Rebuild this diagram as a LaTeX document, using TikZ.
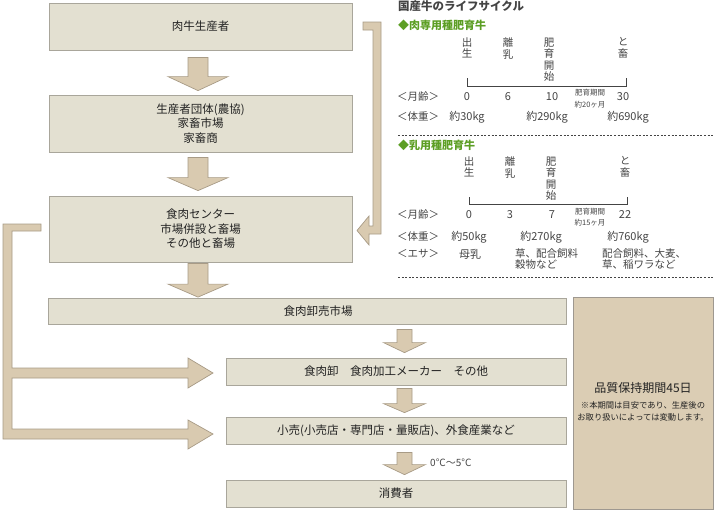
\documentclass[tikz,border=0pt]{standalone}
\usepackage{fontspec}
\setmainfont{Noto Sans CJK JP}
\usetikzlibrary{calc}
\definecolor{boxfill}{HTML}{E3E0D1}
\definecolor{boxline}{HTML}{A9A69B}
\definecolor{arrfill}{HTML}{D9CAB0}
\definecolor{arrline}{HTML}{A89B86}
\definecolor{panfill}{HTML}{DBCDB4}
\definecolor{panline}{HTML}{9E9890}
\definecolor{txt}{HTML}{222222}
\definecolor{gtxt}{HTML}{444444}
\definecolor{grn}{HTML}{5C9E24}
\newcommand\dnarr[8]{%
 \filldraw[blk] let \p1=(#1.south), \p2=(#2.north) in
 (#3pt-#6pt, \y1-#4pt) -- (#3pt+#6pt, \y1-#4pt) -- (#3pt+#6pt, \y2+#5pt+#8pt) --
 (#3pt+#7pt, \y2+#5pt+#8pt) -- (#3pt, \y2+#5pt) -- (#3pt-#7pt, \y2+#5pt+#8pt) --
 (#3pt-#6pt, \y2+#5pt+#8pt) -- cycle;}
\begin{document}
\begin{tikzpicture}[x=1pt,y=-1pt,
 box/.style={draw=boxline, fill=boxfill, line width=0.8pt, inner sep=0pt, align=center,
   font=\fontsize{11.5}{14.5}\selectfont, text=txt},
 blk/.style={fill=arrfill, draw=arrline, line width=0.7pt, line join=miter},
 lab/.style={inner sep=0pt, font=\fontsize{10.5}{12}\selectfont, text=gtxt},
 num/.style={inner sep=0pt, font=\fontsize{11}{12}\selectfont, text=gtxt},
 sml/.style={inner sep=0pt, font=\fontsize{7.5}{9}\selectfont, text=gtxt},
 vt/.style={inner sep=0pt, anchor=north, align=center, font=\fontsize{10.5}{11.5}\selectfont, text=gtxt},
 brk/.style={draw=gtxt, line width=0.8pt},
 dsh/.style={draw=gtxt, line width=0.7pt, dash pattern=on 2pt off 1.6pt},
 feed/.style={inner sep=0pt, anchor=west, align=left, font=\fontsize{10.5}{11.5}\selectfont, text=gtxt}
]
\useasboundingbox (0,0) rectangle (715,509);

% main flow boxes
\node[box, minimum width=303pt, minimum height=47pt] (b1) at (200.5,26.5) {肉牛生産者};
\node[box, minimum width=303pt, minimum height=57pt] (b2) at (200.5,123.5) {生産者団体(農協)\\家畜市場\\家畜商};
\node[box, minimum width=303pt, minimum height=66pt] (b3) at (200.5,229) {食肉センター\\市場併設と畜場\\その他と畜場};
\node[box, minimum width=518pt, minimum height=26pt] (b4) at (307,311) {};
\node[inner sep=0pt, font=\fontsize{11.5}{14}\selectfont, text=txt] (b4t) at (318,311) {食肉卸売市場};
\node[box, minimum width=340pt, minimum height=27pt] (b5) at (396,371.5) {食肉卸\quad 食肉加工メーカー\quad その他};
\node[box, minimum width=340pt, minimum height=27pt] (b6) at (396,430.5) {小売(小売店・専門店・量販店)、外食産業など};
\node[box, minimum width=340pt, minimum height=27pt] (b7) at (396,493.5) {消費者};

% quality panel
\node[draw=panline, fill=panfill, line width=0.8pt, minimum width=140pt, minimum height=212pt, inner sep=0pt] (pan) at (643,403) {};
\node[inner sep=0pt, font=\fontsize{12}{14}\selectfont, text=txt] (q1) at (643,388) {品質保持期間45日};
\node[inner sep=0pt, align=center, font=\fontsize{8.3}{12}\selectfont, text=txt] (q2) at (643,411) {※本期間は目安であり、生産後の\\お取り扱いによっては変動します。};

% block arrows
\dnarr{b1}{b2}{198}{7}{4}{10}{30}{14}
\dnarr{b2}{b3}{198}{5}{5}{10}{30}{13}
\dnarr{b3}{b4}{198}{1}{0.5}{10}{30}{13}
\dnarr{b4}{b5}{404.5}{5}{5}{7.5}{21}{10}
\dnarr{b5}{b6}{404.5}{3}{4}{7.5}{21}{9}
\dnarr{b6}{b7}{404.5}{8}{5}{7.5}{21}{10}
\node[inner sep=0pt, anchor=west, font=\fontsize{10}{12}\selectfont, text=gtxt] (temp) at (430,463) {0°C〜5°C};

% right bracket arrow (b1 -> b3)
\filldraw[blk] (363,22) -- (381,22) -- (381,234) -- (369,234) -- (369,245) -- (357,230.5)
  -- (369,216) -- (369,226) -- (373,226) -- (373,30) -- (363,30) -- cycle;
% left bracket arrows (b3 -> b5, b6)
\filldraw[blk] (41,224) -- (3,224) -- (3,439) -- (188,439) -- (188,449) -- (213,434)
  -- (188,420) -- (188,429) -- (12,429) -- (12,378) -- (188,378) -- (188,388) -- (213,373)
  -- (188,358) -- (188,368) -- (12,368) -- (12,231) -- (41,231) -- cycle;

% life cycle panel
\node[inner sep=0pt, anchor=west, font=\fontsize{11.5}{13}\selectfont\bfseries, text=gtxt] (t0) at (398,6) {国産牛のライフサイクル};
\node[inner sep=0pt, anchor=west, font=\fontsize{11}{13}\selectfont\bfseries, text=grn] (g1) at (398,25) {◆肉専用種肥育牛};
\node[vt] (v11) at (467,37.5) {出\\生};
\node[vt] (v12) at (508,37.5) {離\\乳};
\node[vt] (v13) at (549,37.5) {肥\\育\\開\\始};
\node[vt] (v14) at (623,37.5) {と\\畜};
\draw[brk] (467,78) -- (467,86) -- (626,86) -- (626,78);
\node[lab, anchor=west] (m1) at (397,97) {＜月齢＞};
\node[num] (n10) at (467,97) {0};
\node[num] (n11) at (508,97) {6};
\node[num] (n12) at (552,97) {10};
\node[num] (n13) at (623,97) {30};
\node[sml] (p1a) at (590,93) {肥育期間};
\node[sml] (p1b) at (590,105) {約20ヶ月};
\node[lab, anchor=west] (w1) at (397,117) {＜体重＞};
\node[num] (w11) at (467,117) {約30kg};
\node[num] (w12) at (547,117) {約290kg};
\node[num] (w13) at (628,117) {約690kg};
\draw[dsh] (398,135) -- (713,135);

\node[inner sep=0pt, anchor=west, font=\fontsize{11}{13}\selectfont\bfseries, text=grn] (g2) at (398,145) {◆乳用種肥育牛};
\node[vt] (v21) at (469,156.5) {出\\生};
\node[vt] (v22) at (510,156.5) {離\\乳};
\node[vt] (v23) at (551,156.5) {肥\\育\\開\\始};
\node[vt] (v24) at (625,156.5) {と\\畜};
\draw[brk] (469,197) -- (469,204) -- (627,204) -- (627,197);
\node[lab, anchor=west] (m2) at (397,215) {＜月齢＞};
\node[num] (n20) at (469,215) {0};
\node[num] (n21) at (510,215) {3};
\node[num] (n22) at (552,215) {7};
\node[num] (n23) at (625,215) {22};
\node[sml] (p2a) at (590,212) {肥育期間};
\node[sml] (p2b) at (590,223) {約15ヶ月};
\node[lab, anchor=west] (w2) at (397,237) {＜体重＞};
\node[num] (w21) at (469,237) {約50kg};
\node[num] (w22) at (541,237) {約270kg};
\node[num] (w23) at (628,237) {約760kg};
\node[lab, anchor=west] (e2) at (397,254) {＜エサ＞};
\node[num] (e21) at (470,254) {母乳};
\node[feed, anchor=north west] (e22) at (515,248) {草、配合飼料\\穀物など};
\node[feed, anchor=north west] (e23) at (602,248) {配合飼料、大麦、\\草、稲ワラなど};
\draw[dsh] (398,277) -- (713,277);
\end{tikzpicture}
\end{document}
